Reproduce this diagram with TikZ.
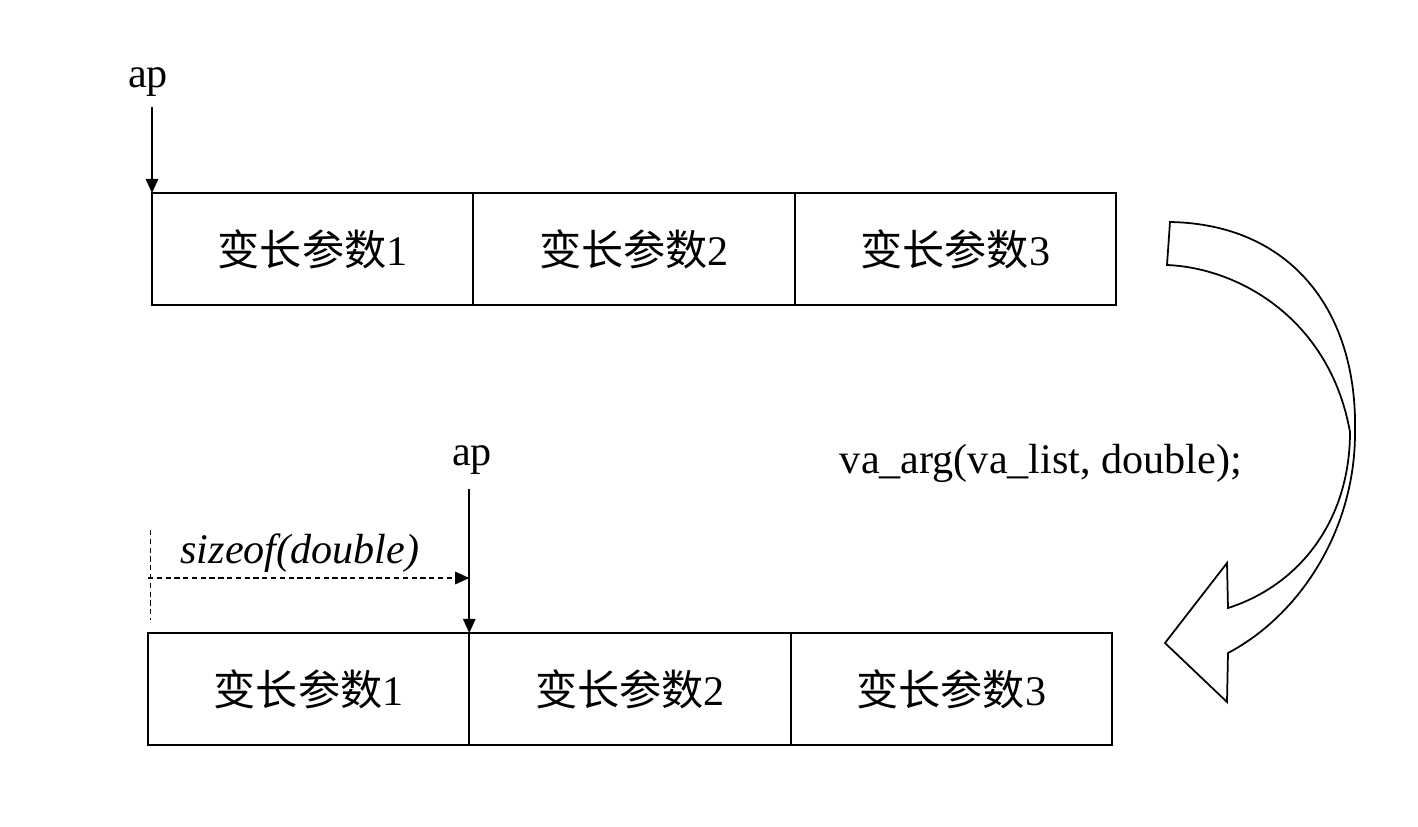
\documentclass[tikz,border=0pt]{standalone}
\usepackage{fontspec}
\setmainfont{Liberation Serif}
\newfontfamily\cjk{Noto Sans CJK SC}
\usepackage{tikz}
\usetikzlibrary{arrows.meta, positioning}
\newcommand{\varparam}[1]{{\cjk 变长参数}#1}

\begin{document}
\begin{tikzpicture}[
		x=0.02cm, y=-0.02cm,
		cell/.style={draw, line width=1.1pt, minimum width=6.427cm, minimum height=2.24cm,
			inner sep=0pt, outer sep=0pt, font=\fontsize{24}{28}\selectfont},
		lbl/.style={font=\fontsize{24}{28}\selectfont, inner sep=2pt},
		ptr/.style={line width=1pt, -{Triangle[length=8pt, width=7pt]}}
	]
	\useasboundingbox (0,0) rectangle (1418,826);

	% upper row
	\node[cell, anchor=north west] (topA) at (152,193) {\varparam{1}};
	\node[cell, right=0pt of topA] (topB) {\varparam{2}};
	\node[cell, right=0pt of topB] (topC) {\varparam{3}};
	\node[lbl] (apTop) at (148,82) {ap};
	\draw[ptr, shorten <=4pt] (apTop.south -| topA.north west) -- (topA.north west);

	% lower row
	\node[cell, anchor=north west] (botA) at (148,633) {\varparam{1}};
	\node[cell, right=0pt of botA] (botB) {\varparam{2}};
	\node[cell, right=0pt of botB] (botC) {\varparam{3}};
	\node[lbl] (apBot) at (472,460) {ap};
	\draw[ptr, shorten <=6pt] (apBot.south -| botA.north east) -- (botA.north east);

	% step of ap
	\coordinate (stepTop) at (150,530);
	\coordinate (stepBot) at (150,620);
	\coordinate (stepL) at (148,578);
	\draw[densely dashed, line width=0.5pt] (stepTop) -- (stepBot);
	\draw[ptr, densely dashed] (stepL) -- (stepL -| botA.north east);
	\node[lbl, font=\fontsize{24}{28}\selectfont\itshape] (stepLbl) at (300,553) {sizeof(double)};

	\node[lbl] (call) at (1041,463) {va\_arg(va\_list, double);};

	% turning arrow
	\draw[line width=1pt, fill=white]
		(1170,222) .. controls (1290,224) and (1358,310) .. (1355,433)
		.. controls (1355,530) and (1300,615) .. (1228,653)
		-- (1227,702) -- (1165,643) -- (1227,563) -- (1228,608)
		.. controls (1300,585) and (1350,520) .. (1350,432)
		.. controls (1330,320) and (1240,268) .. (1167,265) -- cycle;
\end{tikzpicture}
\end{document}
